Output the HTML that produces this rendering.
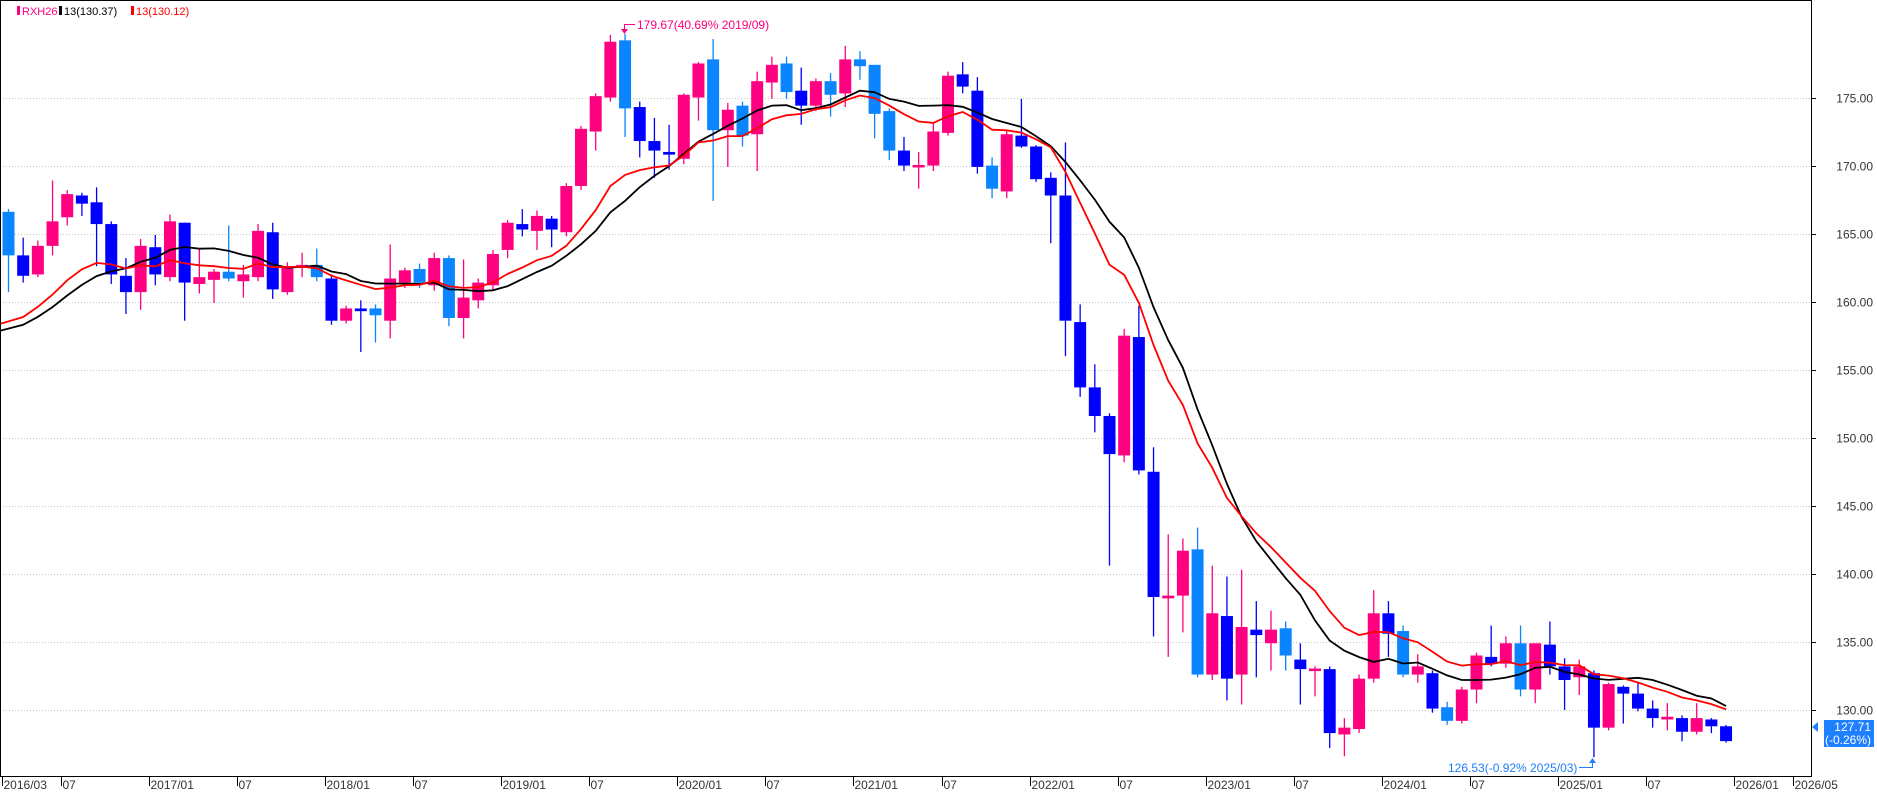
<!DOCTYPE html>
<html><head><meta charset="utf-8"><style>
html,body{margin:0;padding:0;background:#fff;}
svg{display:block;font-family:"Liberation Sans",sans-serif;}
</style></head><body>
<svg id="c" width="1877" height="793" viewBox="0 0 1877 793" xmlns="http://www.w3.org/2000/svg">
<rect x="0" y="0" width="1877" height="793" fill="#fff"/>
<g id="grid"></g>
<g id="cand"></g>
<g id="ma"></g>
<rect x="0.5" y="0.5" width="1811" height="776" fill="none" stroke="#000" stroke-width="1"/>
<g id="axes" font-size="12"></g>
<!-- legend -->
<rect x="17" y="6" width="3" height="9" fill="#FF0080"/>
<text x="22" y="15" font-size="11" fill="#FF0080">RXH26</text>
<rect x="59" y="6" width="3" height="9" fill="#000"/>
<text x="64" y="15" font-size="11" fill="#000">13(130.37)</text>
<rect x="131" y="6" width="3" height="9" fill="#FF0000"/>
<text x="136" y="15" font-size="11" fill="#FF0000">13(130.12)</text>
<!-- annotations -->
<path d="M635 24.5 H624.5 V31" stroke="#FF0080" fill="none" stroke-width="1"/>
<path d="M621 29 L628 29 L624.5 34 Z" fill="#FF0080"/>
<text x="637" y="29" font-size="12" fill="#FF0080">179.67(40.69% 2019/09)</text>
<text x="1448" y="772" font-size="12" fill="#1E7FFF">126.53(-0.92% 2025/03)</text>
<path d="M1579 767.5 H1592.5 V761" stroke="#1E7FFF" fill="none" stroke-width="1"/>
<path d="M1589 763 L1596 763 L1592.5 758 Z" fill="#1E7FFF"/>
<!-- last price -->
<path d="M1812 727 L1818 722 L1818 732 Z" fill="#1E7FFF"/>
<rect x="1824" y="720" width="50" height="27" fill="#1E7FFF"/>
<text x="1871" y="731" font-size="12" fill="#fff" text-anchor="end">127.71</text>
<text x="1871" y="744" font-size="12" fill="#fff" text-anchor="end">(-0.26%)</text>
</svg>
<script>
var D=[
[166.6,166.8,160.7,163.4,'l'],[163.4,164.7,161.4,161.9,'b'],[162.0,164.5,161.8,164.1,'p'],[164.1,168.9,163.4,165.9,'p'],
[166.2,168.2,165.6,167.9,'p'],[167.8,168.0,166.3,167.2,'b'],[167.3,168.4,162.6,165.7,'b'],[165.7,165.9,161.3,162.0,'b'],
[161.9,163.2,159.1,160.7,'b'],[160.7,164.6,159.4,164.1,'p'],[164.0,164.9,161.2,162.0,'b'],[161.8,166.4,161.5,165.9,'p'],
[165.8,165.8,158.6,161.4,'b'],[161.3,163.9,160.6,161.8,'p'],[161.6,162.4,159.9,162.2,'p'],[162.2,165.6,161.5,161.7,'l'],
[161.5,162.7,160.3,162.0,'p'],[161.8,165.7,161.5,165.2,'p'],[165.1,165.8,160.2,160.9,'b'],[160.7,162.9,160.5,162.6,'p'],
[162.5,163.6,161.8,162.7,'p'],[162.7,163.9,161.5,161.8,'l'],[161.7,162.0,158.3,158.6,'b'],[158.6,159.7,158.4,159.5,'p'],
[159.5,160.1,156.3,159.3,'b'],[159.5,159.8,157.0,159.0,'l'],[158.6,164.2,157.3,161.7,'p'],[161.4,162.5,161.0,162.3,'p'],
[162.4,162.8,161.0,161.4,'l'],[161.2,163.6,160.8,163.2,'p'],[163.2,163.4,158.2,158.8,'l'],[158.8,163.1,157.3,160.3,'p'],
[160.1,161.7,159.5,161.4,'p'],[161.2,163.8,160.9,163.5,'p'],[163.8,166.0,163.2,165.8,'p'],[165.7,166.8,164.8,165.3,'b'],
[165.2,166.7,163.8,166.3,'p'],[166.1,166.3,164.0,165.3,'b'],[165.1,168.7,164.8,168.5,'p'],[168.5,172.9,168.2,172.7,'p'],
[172.5,175.3,171.1,175.1,'p'],[175.0,179.6,174.7,179.1,'p'],[179.2,179.67,172.1,174.2,'l'],[174.3,174.7,170.6,171.8,'b'],
[171.8,173.5,169.1,171.1,'b'],[171.0,173.0,169.7,170.8,'b'],[170.5,175.3,170.1,175.2,'p'],[175.0,177.6,173.3,177.5,'p'],
[177.8,179.3,167.4,172.6,'l'],[172.6,174.6,169.9,174.1,'p'],[174.4,174.7,171.4,172.2,'l'],[172.3,176.9,169.6,176.2,'p'],
[176.1,178.0,174.9,177.4,'p'],[177.5,178.0,174.9,175.4,'l'],[175.5,177.2,173.0,174.4,'b'],[174.4,176.4,174.0,176.2,'p'],
[176.2,176.8,173.6,175.2,'l'],[175.3,178.8,174.3,177.8,'p'],[177.8,178.4,176.3,177.3,'l'],[177.4,177.4,172.0,173.8,'l'],
[174.0,174.2,170.4,171.1,'l'],[171.1,172.1,169.6,170.0,'b'],[169.9,171.0,168.3,170.0,'p'],[170.0,173.2,169.6,172.5,'p'],
[172.4,176.9,172.2,176.6,'p'],[176.7,177.6,175.3,175.8,'b'],[175.5,176.5,169.4,169.9,'b'],[170.0,170.6,167.6,168.3,'l'],
[168.1,172.6,167.6,172.3,'p'],[172.2,174.9,171.3,171.4,'b'],[171.4,171.5,168.8,169.0,'b'],[169.1,169.5,164.3,167.8,'b'],
[167.8,171.7,156.0,158.6,'b'],[158.5,159.8,153.0,153.7,'b'],[153.7,155.4,150.4,151.6,'b'],[151.6,151.8,140.6,148.8,'b'],
[148.7,158.0,148.2,157.5,'p'],[157.4,159.7,147.3,147.6,'b'],[147.5,149.3,135.4,138.3,'b'],[138.2,142.9,133.9,138.4,'p'],
[138.4,142.6,135.7,141.7,'p'],[141.8,143.4,132.4,132.6,'l'],[132.6,140.6,132.2,137.1,'p'],[136.9,139.8,130.7,132.3,'b'],
[132.6,140.3,130.4,136.1,'p'],[135.9,138.0,132.4,135.5,'b'],[134.9,137.3,132.9,135.9,'p'],[136.0,136.5,132.9,134.0,'l'],
[133.7,134.9,130.4,133.0,'b'],[132.9,133.2,131.0,133.0,'p'],[133.0,133.2,127.2,128.3,'b'],[128.2,129.4,126.6,128.7,'p'],
[128.6,132.6,128.3,132.3,'p'],[132.3,138.8,132.0,137.1,'p'],[137.1,138.0,133.9,135.6,'b'],[135.8,136.2,132.4,132.6,'l'],
[132.6,134.1,132.0,133.2,'p'],[132.7,132.9,129.8,130.1,'b'],[130.2,130.6,128.9,129.2,'l'],[129.2,131.7,129.0,131.5,'p'],
[131.5,134.2,130.5,134.0,'p'],[133.9,136.2,133.2,133.4,'b'],[133.4,135.4,133.1,134.9,'p'],[134.9,136.2,131.0,131.5,'l'],
[131.5,134.9,130.5,134.9,'p'],[134.8,136.5,132.6,133.2,'b'],[133.2,133.8,130.0,132.2,'b'],[132.4,133.7,131.1,133.2,'p'],
[132.7,132.9,126.53,128.7,'b'],[128.7,132.0,128.5,131.9,'p'],[131.7,131.8,129.0,131.2,'b'],[131.2,132.0,129.9,130.1,'b'],
[130.1,130.7,128.7,129.4,'b'],[129.3,130.5,128.5,129.5,'p'],[129.4,129.6,127.7,128.4,'b'],[128.4,130.5,128.2,129.4,'p'],
[129.3,129.4,128.3,128.8,'b'],[128.8,128.9,127.6,127.71,'b']];
var NS="http://www.w3.org/2000/svg";
function Y(p){return 97.5+(175-p)*13.61;}
function X(i){return 8.5+14.68*i;}
function el(t,a,par){var e=document.createElementNS(NS,t);for(var k in a)e.setAttribute(k,a[k]);document.getElementById(par).appendChild(e);return e;}
var col={p:'#FF0080',b:'#0000FF',l:'#0A84FF'};
for(var p=130;p<=175;p+=5){var y=Math.round(Y(p))+0.5;
 el('line',{x1:0,x2:1811,y1:y,y2:y,stroke:'#c4c4c4','stroke-dasharray':'1,2','stroke-width':1},'grid');
 el('line',{x1:1811,x2:1816,y1:y,y2:y,stroke:'#000','stroke-width':1},'axes');
 var t=el('text',{x:1873,y:y+4,'text-anchor':'end',fill:'#333'},'axes');t.textContent=p.toFixed(2);}
function tick(i,lab){var x=Math.round(2+14.68*i)+0.5;
 el('line',{x1:x,x2:x,y1:776,y2:786,stroke:'#000','stroke-width':1},'axes');
 var t=el('text',{x:x+1,y:789,fill:'#333'},'axes');t.textContent=lab;}
tick(0,'2016/03');
for(var yr=2016;yr<=2026;yr++){var i1=(yr-2016)*12-2;
 if(i1>0)tick(i1,yr+'/01'); if(i1+6>0&&i1+6<118)tick(i1+6,'07');}
tick(122,'2026/05');
D.forEach(function(d,i){var x=X(i),c=col[d[4]];
 el('line',{x1:x,x2:x,y1:Y(d[1]),y2:Y(d[2]),stroke:c,'stroke-width':1.3},'cand');
 var t=Y(Math.max(d[0],d[3])),b=Y(Math.min(d[0],d[3]));if(b-t<2.5){var m=(t+b)/2;t=m-1.25;b=m+1.25;}
 el('rect',{x:x-6,y:t,width:12,height:b-t,fill:c},'cand');});
var C=[];for(var k=1;k<=12;k++)C.push(155.98+0.218*k);D.forEach(function(d){C.push(d[3]);});
var sp=[],wp=[];
var a=2/14,e=C[0];for(var k=1;k<12;k++)e=a*C[k]+(1-a)*e;
for(var i=0;i<D.length;i++){var j=i+12,s=0;
 for(var k=0;k<13;k++){s+=C[j-k];}
 e=a*C[j]+(1-a)*e;
 sp.push(X(i).toFixed(1)+','+Y(s/13).toFixed(1));wp.push(X(i).toFixed(1)+','+Y(e).toFixed(1));}
sp[0]='0,'+sp[0].split(',')[1];wp[0]='0,'+wp[0].split(',')[1];
el('polyline',{points:sp.join(' '),fill:'none',stroke:'#000','stroke-width':1.8},'ma');
el('polyline',{points:wp.join(' '),fill:'none',stroke:'#FF0000','stroke-width':1.8},'ma');
</script>
</body></html>
